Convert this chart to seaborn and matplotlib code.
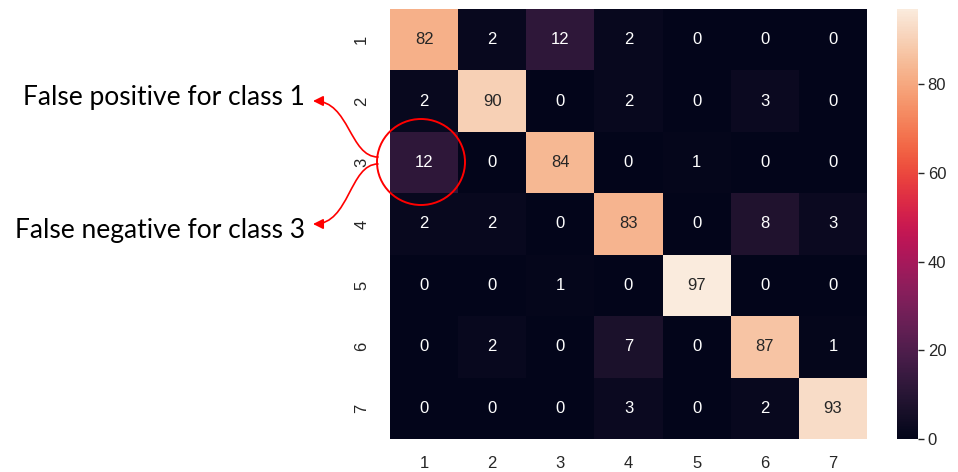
import numpy as np
import pandas as pd
import matplotlib
matplotlib.use("Agg")
import matplotlib.pyplot as plt
from matplotlib.patches import FancyArrowPatch, Ellipse
from matplotlib.path import Path
import seaborn as sns

# Confusion matrix for 7 classes (rows: actual, columns: predicted)
classes = ["1", "2", "3", "4", "5", "6", "7"]
row_1 = [82, 2, 12, 2, 0, 0, 0]
row_2 = [2, 90, 0, 2, 0, 3, 0]
row_3 = [12, 0, 84, 0, 1, 0, 0]
row_4 = [2, 2, 0, 83, 0, 8, 3]
row_5 = [0, 0, 1, 0, 97, 0, 0]
row_6 = [0, 2, 0, 7, 0, 87, 1]
row_7 = [0, 0, 0, 3, 0, 2, 93]

cm = pd.DataFrame([row_1, row_2, row_3, row_4, row_5, row_6, row_7],
                  index=classes, columns=classes)

sns.set_theme(style="white")
plt.rcParams["font.family"] = ["Liberation Sans", "DejaVu Sans"]

W, H = 958, 472
fig = plt.figure(figsize=(W / 100, H / 100), dpi=100)


def fx(px):
    return px / W


def fy(py):
    return 1 - py / H


ax = fig.add_axes([fx(390), fy(439), fx(867) - fx(390), fy(9) - fy(439)])
cax = fig.add_axes([fx(897), fy(439), fx(918) - fx(897), fy(9) - fy(439)])

sns.heatmap(cm, annot=True, fmt="d", ax=ax, cbar_ax=cax,
            annot_kws={"fontsize": 12})

ax.tick_params(axis="x", length=0, labelsize=12, colors="#262626", pad=12)
ax.tick_params(axis="y", length=0, labelsize=12, colors="#262626", pad=15)
ax.set_yticklabels(classes, rotation=90, va="center")
ax.set_xticklabels(classes, rotation=0)
cax.tick_params(labelsize=12, length=4, width=1, colors="#262626", pad=3)
cax.set_yticks([0, 20, 40, 60, 80])
for s in cax.spines.values():
    s.set_visible(False)

# Side annotations explaining the off-diagonal cell
label_font = ["Lato", "DejaVu Sans"]
fig.text(fx(305), fy(97), "False positive for class 1", ha="right", va="center",
         fontsize=19, family=label_font, color="black")
fig.text(fx(305), fy(231), "False negative for class 3", ha="right", va="center",
         fontsize=19, family=label_font, color="black")

circle = Ellipse((fx(421), fy(162)), fx(88), 86 / H, transform=fig.transFigure,
                 fill=False, edgecolor="red", linewidth=1.4)
fig.add_artist(circle)


def s_curve(p0, p1):
    (x0, y0), (x1, y1) = p0, p1
    xm = (x0 + x1) / 2 + 4
    verts = [(fx(x0), fy(y0)), (fx(xm), fy(y0)), (fx(xm), fy(y1)), (fx(x1), fy(y1))]
    return Path(verts, [Path.MOVETO, Path.CURVE4, Path.CURVE4, Path.CURVE4])


for start, end in [((378, 157), (313, 101)), ((378, 164), (313, 224))]:
    arrow = FancyArrowPatch(path=s_curve(start, end), transform=fig.transFigure,
                            arrowstyle="-|>,head_length=6,head_width=3",
                            color="red", linewidth=1.2)
    fig.add_artist(arrow)

fig.savefig("out.png", dpi=100)
